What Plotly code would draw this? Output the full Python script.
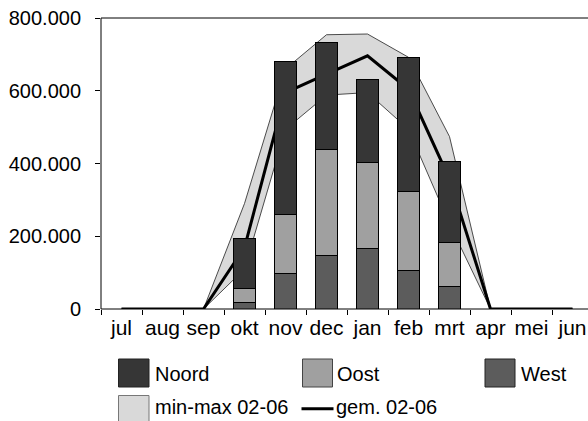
import plotly.graph_objects as go

months = ["jul", "aug", "sep", "okt", "nov", "dec", "jan", "feb", "mrt", "apr", "mei", "jun"]
west = [None, None, None, 18000, 98000, 148000, 167000, 107000, 62000, None, None, None]
oost = [None, None, None, 39000, 162000, 291000, 236000, 215000, 120000, None, None, None]
noord = [None, None, None, 136000, 420000, 293000, 228000, 369000, 224000, None, None, None]
gem = [0, 0, 0, 169000, 595000, 646000, 696000, 604000, 357000, 0, 0, 0]
vmax = [0, 0, 0, 290000, 660000, 754000, 756000, 692000, 474000, 0, 0, 0]
vmin = [0, 0, 0, 110000, 494000, 588000, 595000, 494000, 234000, 0, 0, 0]

C_NOORD = "#363636"
C_OOST = "#a0a0a0"
C_WEST = "#5c5c5c"
C_BAND = "#d9d9d9"
FONT = "Arial, Liberation Sans, sans-serif"

W, H = 588, 421
ML, MR, MT, MB = 101, 0, 18, 112
PW, PH = W - ML - MR, H - MT - MB

fig = go.Figure()
fig.add_trace(go.Scatter(x=months, y=vmin, mode="lines", line=dict(color="#222", width=0.8),
                         showlegend=False, zorder=0, hoverinfo="skip"))
fig.add_trace(go.Scatter(x=months, y=vmax, mode="lines", line=dict(color="#222", width=0.8),
                         fill="tonexty", fillcolor=C_BAND, showlegend=False, zorder=0))
fig.add_trace(go.Scatter(x=months, y=gem, mode="lines", line=dict(color="black", width=3),
                         showlegend=False, zorder=0))
for name, vals, col in [("West", west, C_WEST), ("Oost", oost, C_OOST), ("Noord", noord, C_NOORD)]:
    fig.add_trace(go.Bar(x=months, y=vals, name=name, marker=dict(color=col, line=dict(color="black", width=1)),
                         showlegend=False, zorder=1))

fig.update_layout(
    width=W, height=H, margin=dict(l=ML, r=MR, t=MT, b=MB, autoexpand=False),
    barmode="stack", bargap=0.44,
    plot_bgcolor="white", paper_bgcolor="white",
    separators=",.",
    font=dict(family=FONT, size=20, color="black"),
    showlegend=False,
)
fig.update_xaxes(type="category", range=[-0.5, 11.378], tickson="boundaries", ticks="outside",
                 ticklen=5, tickcolor="black", showline=False, showgrid=False, tickangle=0,
                 automargin=False, tickfont=dict(size=21, family=FONT), ticklabelstandoff=4)
fig.update_yaxes(range=[0, 800000], dtick=200000, tickformat=",d", ticks="outside", ticklen=5,
                 tickcolor="black", showline=False, showgrid=False, automargin=False,
                 zeroline=False, tickfont=dict(size=20, family=FONT), ticklabelstandoff=10)

# frame lines (left axis, bottom axis, top border)
for x0, y0, x1, y1 in [(0, 0, 0, 1), (0, 0, 1.01, 0), (0, 1, 1.01, 1)]:
    fig.add_shape(type="line", xref="paper", yref="paper", x0=x0, y0=y0, x1=x1, y1=y1,
                  line=dict(color="black", width=1), layer="above")


def px(x):
    return (x - ML) / PW


def py(y):
    return (H - MB - y) / PH


def swatch(x0, y0, x1, y1, fill, line):
    fig.add_shape(type="rect", xref="paper", yref="paper", x0=px(x0), x1=px(x1), y0=py(y1), y1=py(y0),
                  fillcolor=fill, line=dict(color=line, width=1), layer="above")


def label(x, y, text):
    fig.add_annotation(xref="paper", yref="paper", x=px(x), y=py(y), text=text, showarrow=False,
                       xanchor="left", yanchor="middle", font=dict(size=20, family=FONT, color="black"))


swatch(118.5, 359, 149, 387, C_NOORD, "#222")
label(153, 374, "Noord")
swatch(302.5, 359, 332.5, 387, C_OOST, "#444")
label(335, 374, "Oost")
swatch(485, 359, 515, 387, C_WEST, "#222")
label(518.5, 374, "West")
swatch(118.5, 395.5, 149, 426, C_BAND, "#777")
label(153, 407, "min-max 02-06")
fig.add_shape(type="line", xref="paper", yref="paper", x0=px(301.5), x1=px(333.5), y0=py(408.7), y1=py(408.7),
              line=dict(color="black", width=3))
label(334, 407, "gem. 02-06")

fig.write_html("out.html", config={"displayModeBar": False},
               post_script="document.body.style.margin='0px';document.body.style.overflow='hidden';")
